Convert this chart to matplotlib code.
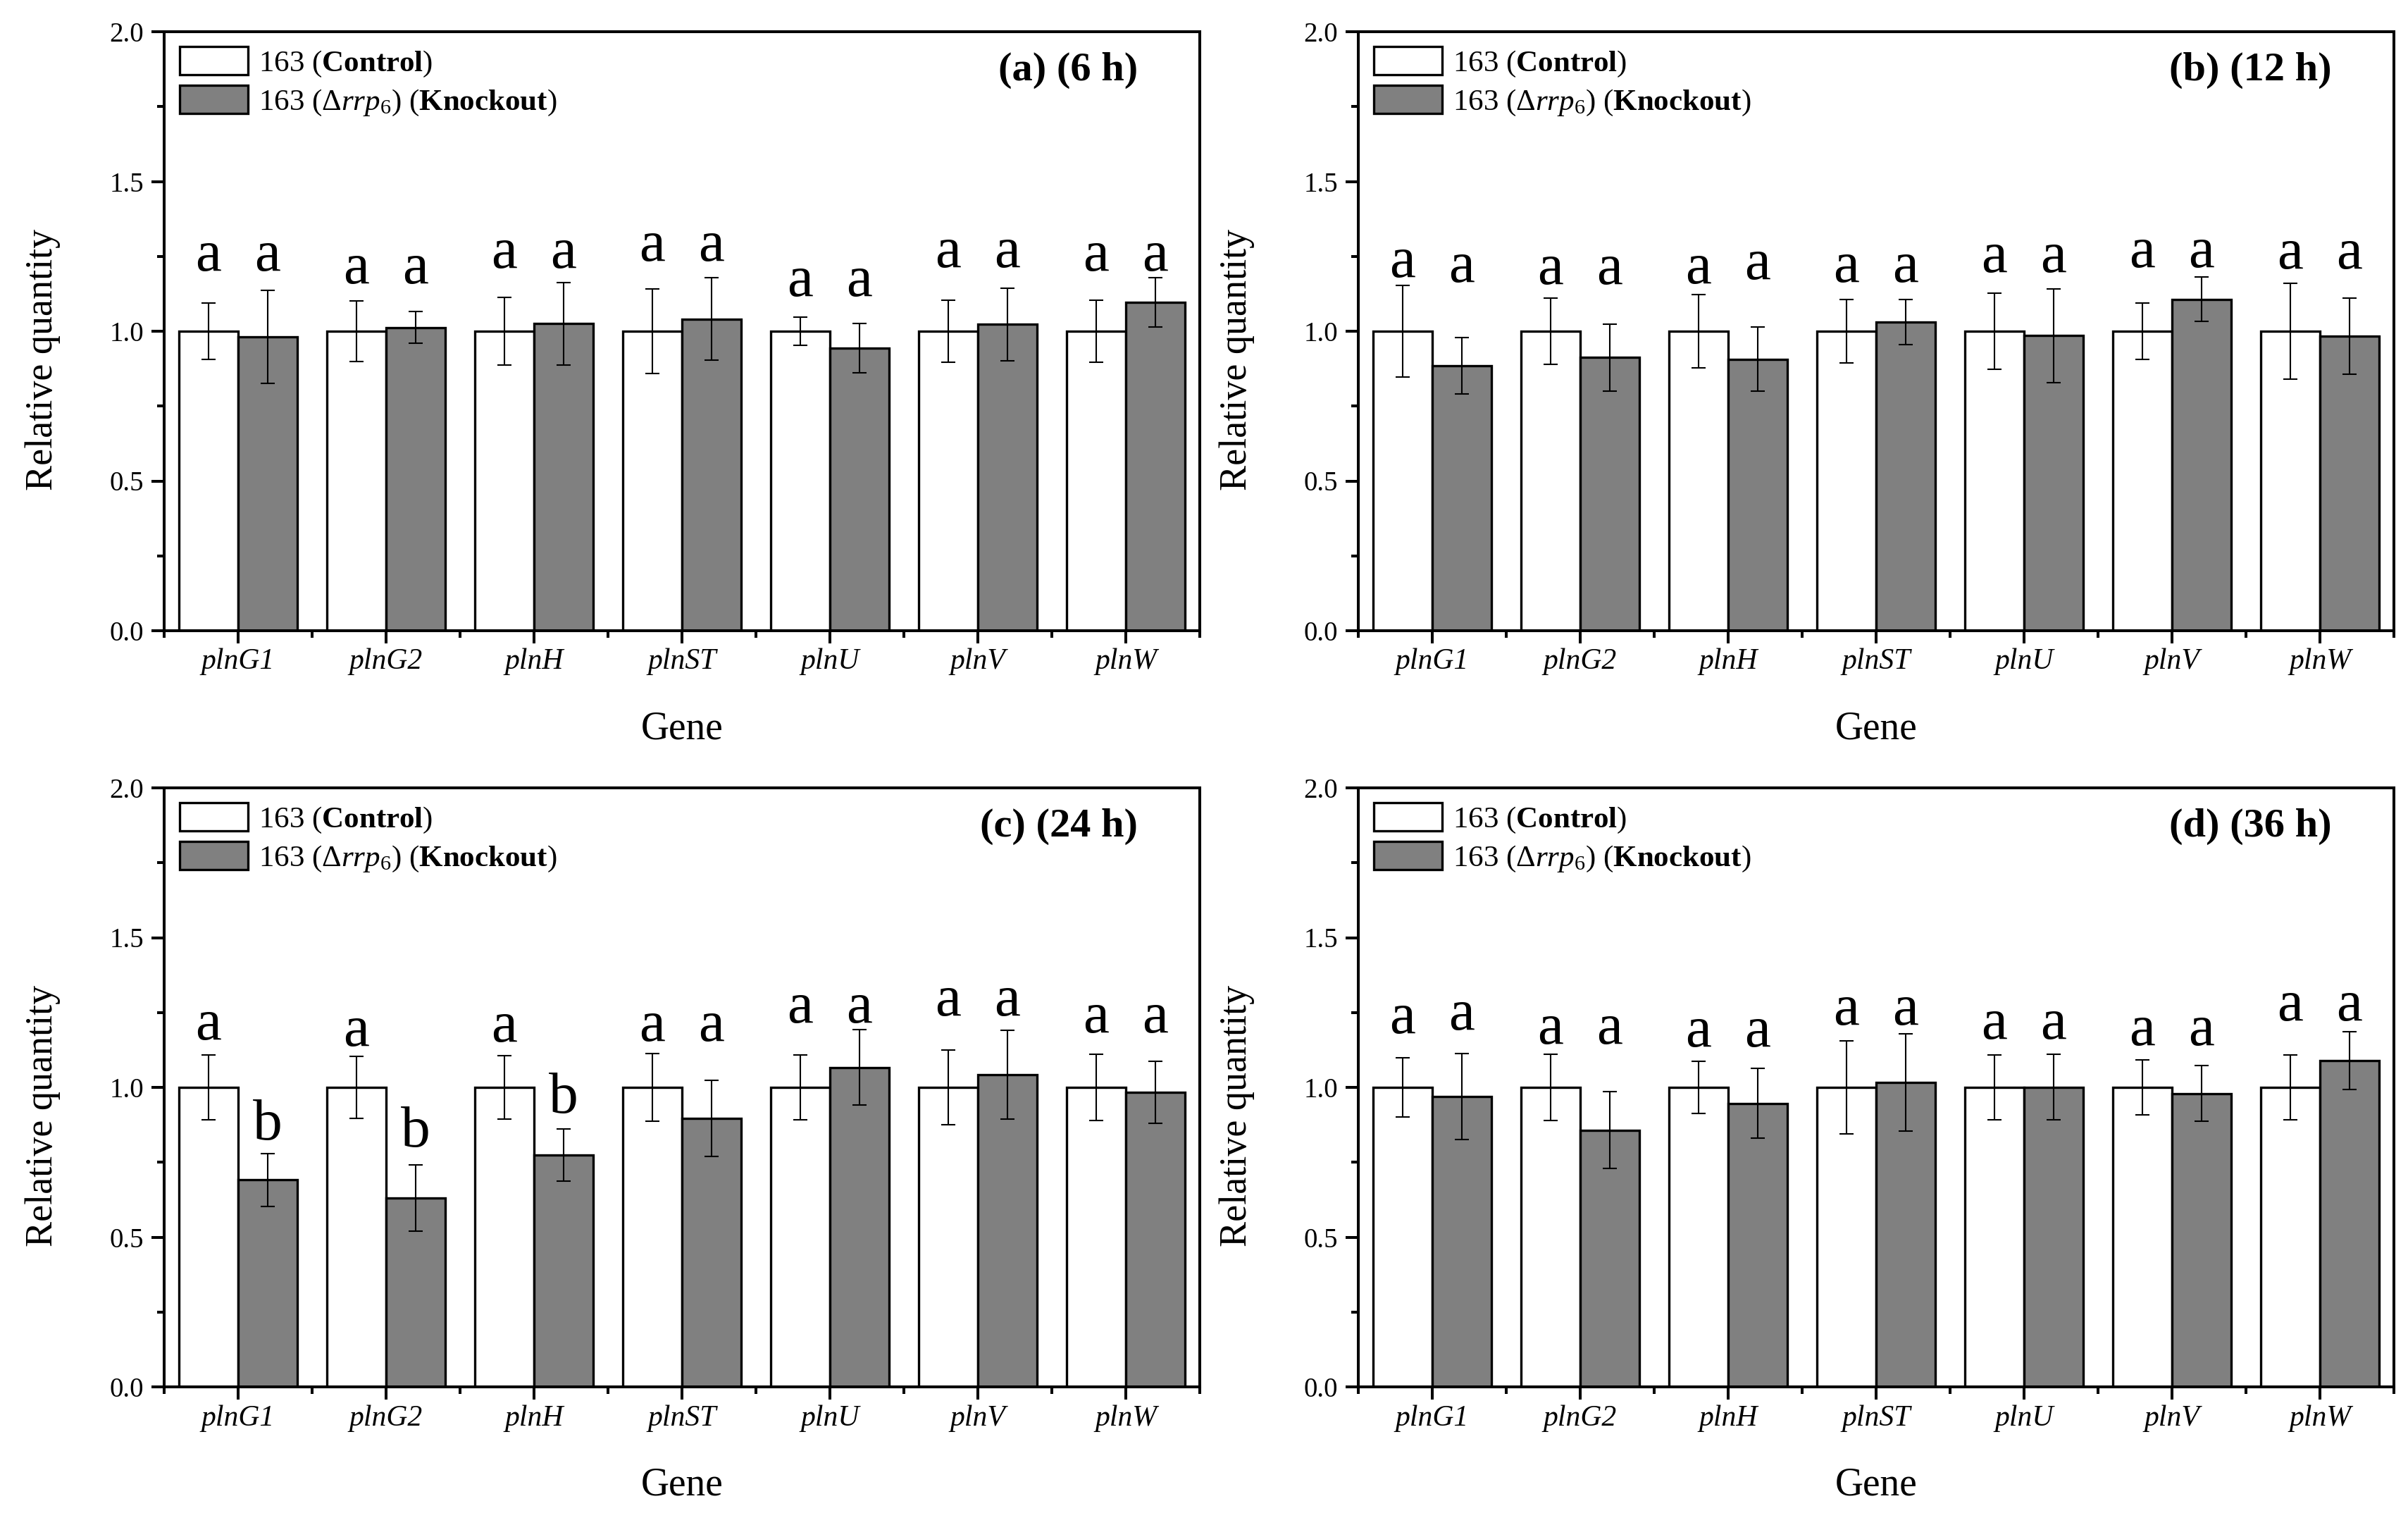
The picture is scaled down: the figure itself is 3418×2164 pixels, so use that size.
import numpy as np
import matplotlib
matplotlib.use("Agg")
import matplotlib.pyplot as plt
from matplotlib.ticker import FixedLocator, MultipleLocator, FormatStrFormatter

plt.rcParams["font.family"] = ["Liberation Serif", "DejaVu Serif"]
plt.rcParams["mathtext.fontset"] = "custom"
plt.rcParams["mathtext.rm"] = "Liberation Serif"
plt.rcParams["mathtext.it"] = "Liberation Serif:italic"
plt.rcParams["mathtext.bf"] = "Liberation Serif:bold"

genes = ["plnG1", "plnG2", "plnH", "plnST", "plnU", "plnV", "plnW"]

# (a) 6 h
ctrl_a = [1.0, 1.0, 1.0, 1.0, 1.0, 1.0, 1.0]
ctrl_err_a = [0.095, 0.100, 0.113, 0.142, 0.047, 0.104, 0.104]
ko_a = [0.981, 1.012, 1.025, 1.041, 0.943, 1.023, 1.096]
ko_err_a = [0.155, 0.053, 0.138, 0.137, 0.082, 0.121, 0.083]
sig_ctrl_a = ["a", "a", "a", "a", "a", "a", "a"]
sig_ko_a = ["a", "a", "a", "a", "a", "a", "a"]
sig_y_ctrl_a = [1.203, 1.160, 1.211, 1.236, 1.117, 1.215, 1.203]
sig_y_ko_a = [1.203, 1.160, 1.211, 1.236, 1.117, 1.215, 1.203]

# (b) 12 h
ctrl_b = [1.0, 1.0, 1.0, 1.0, 1.0, 1.0, 1.0]
ctrl_err_b = [0.152, 0.110, 0.123, 0.107, 0.128, 0.094, 0.159]
ko_b = [0.884, 0.912, 0.907, 1.030, 0.985, 1.106, 0.983]
ko_err_b = [0.094, 0.111, 0.106, 0.075, 0.157, 0.074, 0.127]
sig_ctrl_b = ["a", "a", "a", "a", "a", "a", "a"]
sig_ko_b = ["a", "a", "a", "a", "a", "a", "a"]
sig_y_ctrl_b = [1.181, 1.157, 1.161, 1.165, 1.197, 1.213, 1.210]
sig_y_ko_b = [1.165, 1.157, 1.173, 1.165, 1.197, 1.213, 1.210]

# (c) 24 h
ctrl_c = [1.0, 1.0, 1.0, 1.0, 1.0, 1.0, 1.0]
ctrl_err_c = [0.109, 0.104, 0.105, 0.113, 0.108, 0.124, 0.110]
ko_c = [0.691, 0.631, 0.774, 0.897, 1.067, 1.043, 0.983]
ko_err_c = [0.089, 0.110, 0.087, 0.127, 0.126, 0.148, 0.104]
sig_ctrl_c = ["a", "a", "a", "a", "a", "a", "a"]
sig_ko_c = ["b", "b", "b", "a", "a", "a", "a"]
sig_y_ctrl_c = [1.160, 1.139, 1.152, 1.155, 1.217, 1.241, 1.184]
sig_y_ko_c = [0.827, 0.803, 0.916, 1.155, 1.217, 1.241, 1.184]

# (d) 36 h
ctrl_d = [1.0, 1.0, 1.0, 1.0, 1.0, 1.0, 1.0]
ctrl_err_d = [0.098, 0.110, 0.087, 0.155, 0.108, 0.092, 0.108]
ko_d = [0.970, 0.857, 0.947, 1.017, 1.001, 0.980, 1.090]
ko_err_d = [0.143, 0.128, 0.117, 0.162, 0.109, 0.093, 0.096]
sig_ctrl_d = ["a", "a", "a", "a", "a", "a", "a"]
sig_ko_d = ["a", "a", "a", "a", "a", "a", "a"]
sig_y_ctrl_d = [1.182, 1.145, 1.137, 1.210, 1.163, 1.142, 1.223]
sig_y_ko_d = [1.194, 1.145, 1.137, 1.210, 1.163, 1.142, 1.223]

panel_titles = ["(a) (6 h)", "(b) (12 h)", "(c) (24 h)", "(d) (36 h)"]

label_ctrl = r"163 ($\mathbf{Control}$)"
label_ko = r"163 ($\Delta\mathit{rrp}_{\mathit{6}}$) ($\mathbf{Knockout}$)"

W, H = 3418, 2164
fig = plt.figure(figsize=(W / 100, H / 100), dpi=100)

ax_w, ax_h = 1470, 850
lefts = [233, 1928, 233, 1928]
tops = [45, 45, 1118, 1118]

panels = [
    (ctrl_a, ctrl_err_a, ko_a, ko_err_a, sig_ctrl_a, sig_ko_a, sig_y_ctrl_a, sig_y_ko_a),
    (ctrl_b, ctrl_err_b, ko_b, ko_err_b, sig_ctrl_b, sig_ko_b, sig_y_ctrl_b, sig_y_ko_b),
    (ctrl_c, ctrl_err_c, ko_c, ko_err_c, sig_ctrl_c, sig_ko_c, sig_y_ctrl_c, sig_y_ko_c),
    (ctrl_d, ctrl_err_d, ko_d, ko_err_d, sig_ctrl_d, sig_ko_d, sig_y_ctrl_d, sig_y_ko_d),
]

x = np.arange(len(genes))
bw = 0.4
err_kw = dict(ecolor="black", elinewidth=1.5, capsize=7, capthick=1.5, zorder=3)

for i, (cv, ce, kv, ke, sc, sk, syc, syk) in enumerate(panels):
    rect = [lefts[i] / W, 1 - (tops[i] + ax_h) / H, ax_w / W, ax_h / H]
    ax = fig.add_axes(rect)

    ax.bar(x - bw / 2, cv, bw, yerr=ce, color="white", edgecolor="black",
           linewidth=2.4, error_kw=err_kw, label=label_ctrl, zorder=2)
    ax.bar(x + bw / 2, kv, bw, yerr=ke, color="#808080", edgecolor="black",
           linewidth=2.4, error_kw=err_kw, label=label_ko, zorder=2)

    # significance letters above each bar
    for j in range(len(genes)):
        ax.text(x[j] - bw / 2, syc[j], sc[j], ha="center", va="baseline", fontsize=60)
        ax.text(x[j] + bw / 2, syk[j], sk[j], ha="center", va="baseline", fontsize=60)

    ax.set_xlim(-0.5, len(genes) - 0.5)
    ax.set_ylim(0, 2.0)
    ax.yaxis.set_major_locator(MultipleLocator(0.5))
    ax.yaxis.set_minor_locator(MultipleLocator(0.25))
    ax.yaxis.set_major_formatter(FormatStrFormatter("%.1f"))
    ax.xaxis.set_major_locator(FixedLocator(x))
    ax.xaxis.set_minor_locator(FixedLocator(np.arange(-0.5, len(genes), 1.0)))
    ax.set_xticklabels(genes, fontstyle="italic", fontsize=30)

    ax.tick_params(axis="y", which="major", direction="out", length=13, width=2.9,
                   labelsize=28, pad=8)
    ax.tick_params(axis="x", which="major", direction="out", length=13, width=2.9, pad=5)
    ax.tick_params(which="minor", direction="out", length=7, width=2.9)
    for s in ax.spines.values():
        s.set_linewidth(2.9)

    ax.set_ylabel("Relative quantity", fontsize=39)
    ax.yaxis.set_label_coords(-0.100, 0.453)
    ax.set_xlabel("Gene", fontsize=40)
    ax.xaxis.set_label_coords(0.5, -0.134)

    ax.text(1 - 88 / ax_w, 1 - 55 / ax_h, panel_titles[i], transform=ax.transAxes,
            ha="right", va="center", fontsize=42, fontweight="bold")

    ax.legend(loc="upper left", bbox_to_anchor=(22 / ax_w, 1 - 21 / ax_h),
              frameon=False, fontsize=31, borderpad=0, borderaxespad=0,
              handlelength=2.25, handleheight=1.07, handletextpad=0.34,
              labelspacing=0.2)

fig.savefig("out.png", dpi=100)
